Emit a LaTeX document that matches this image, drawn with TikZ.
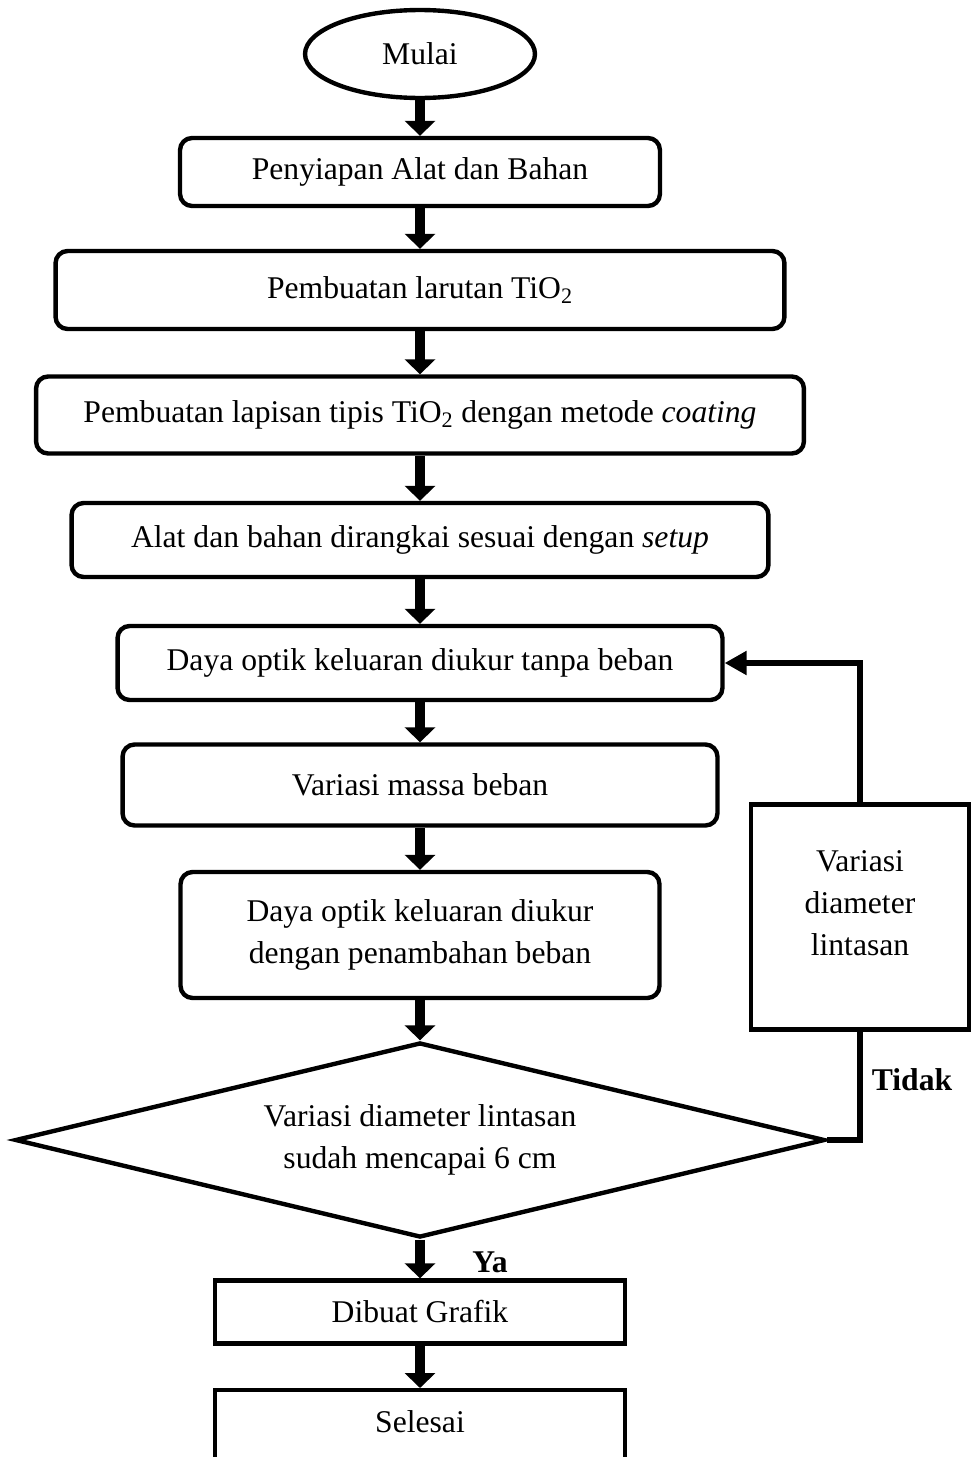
\documentclass[tikz,border=0pt]{standalone}
\usepackage{fontspec}
\setmainfont{Liberation Serif}
\usetikzlibrary{shapes.geometric,arrows.meta}

\begin{document}
\begin{tikzpicture}[x=0.02cm,y=-0.02cm,
  font=\fontsize{18}{24}\selectfont,
  proses/.style={draw,line width=2.5pt,rounded corners=0.24cm,align=center,inner sep=0pt},
  kotak/.style={draw,line width=2.5pt,align=center,inner sep=0pt},
  panah/.style={line width=6pt,-{Triangle[width=0.6cm,length=0.3cm]}},
  balik/.style={line width=3pt,-{Triangle[width=0.46cm,length=0.44cm]}},
  label/.style={font=\fontsize{18}{24}\selectfont\bfseries}]

% Page size
\useasboundingbox (0,0) rectangle (973,1457);

% Start
\node[ellipse,draw,line width=2.5pt,minimum width=4.6cm,minimum height=1.76cm,inner sep=0pt] (mulai) at (420,54) {Mulai};

% Main column
\node[proses,minimum width=9.6cm,minimum height=1.36cm] (alat) at (420,172) {Penyiapan Alat dan Bahan};
\node[proses,minimum width=14.58cm,minimum height=1.56cm] (larutan) at (420,290) {Pembuatan larutan TiO\textsubscript{2}};
\node[proses,minimum width=15.36cm,minimum height=1.54cm] (lapisan) at (420,415) {Pembuatan lapisan tipis TiO\textsubscript{2} dengan metode \textit{coating}};
\node[proses,minimum width=13.94cm,minimum height=1.48cm] (setup) at (420,540) {Alat dan bahan dirangkai sesuai dengan \textit{setup}};
\node[proses,minimum width=12.1cm,minimum height=1.48cm] (daya1) at (420,663) {Daya optik keluaran diukur tanpa beban};
\node[proses,minimum width=11.9cm,minimum height=1.62cm] (massa) at (420,785) {Variasi massa beban};
\node[proses,minimum width=9.58cm,minimum height=2.52cm] (daya2) at (420,935) {Daya optik keluaran diukur\\dengan penambahan beban};

% Decision
\node[diamond,draw,line width=2.5pt,aspect=4.15,minimum width=16.2cm,minimum height=3.9cm,inner sep=0pt,align=center] (cek) at (420,1140) {Variasi diameter lintasan\\sudah mencapai 6 cm};

% Loop box
\node[kotak,minimum width=4.36cm,minimum height=4.5cm,text depth=0.56cm] (variasi) at (860,917) {Variasi\\diameter\\lintasan};

% End
\node[kotak,minimum width=8.2cm,minimum height=1.26cm] (grafik) at (420,1312) {Dibuat Grafik};
\node[kotak,anchor=north,minimum width=8.2cm,text height=0.84cm,text depth=1.2cm] (selesai) at (420,1388) {Selesai};

% Labels
\node[label] (tidak) at (912,1080) {Tidak};
\node[label] (ya) at (490,1262) {Ya};

% Arrows
\draw[panah] (mulai.south) -- (alat.north);
\draw[panah] (alat.south) -- (larutan.north);
\draw[panah] (larutan.south) -- (lapisan.north);
\draw[panah] (lapisan.south) -- (setup.north);
\draw[panah] (setup.south) -- (daya1.north);
\draw[panah] (daya1.south) -- (massa.north);
\draw[panah] (massa.south) -- (daya2.north);
\draw[panah] (daya2.south) -- (cek.north);
\draw[panah] (cek.south) -- (grafik.north);
\draw[panah] (grafik.south) -- (selesai.north);

% Loop back
\draw[line width=3pt] (cek.east) -| (variasi.south);
\draw[balik] (variasi.north) |- (daya1.east);

\end{tikzpicture}
\end{document}
